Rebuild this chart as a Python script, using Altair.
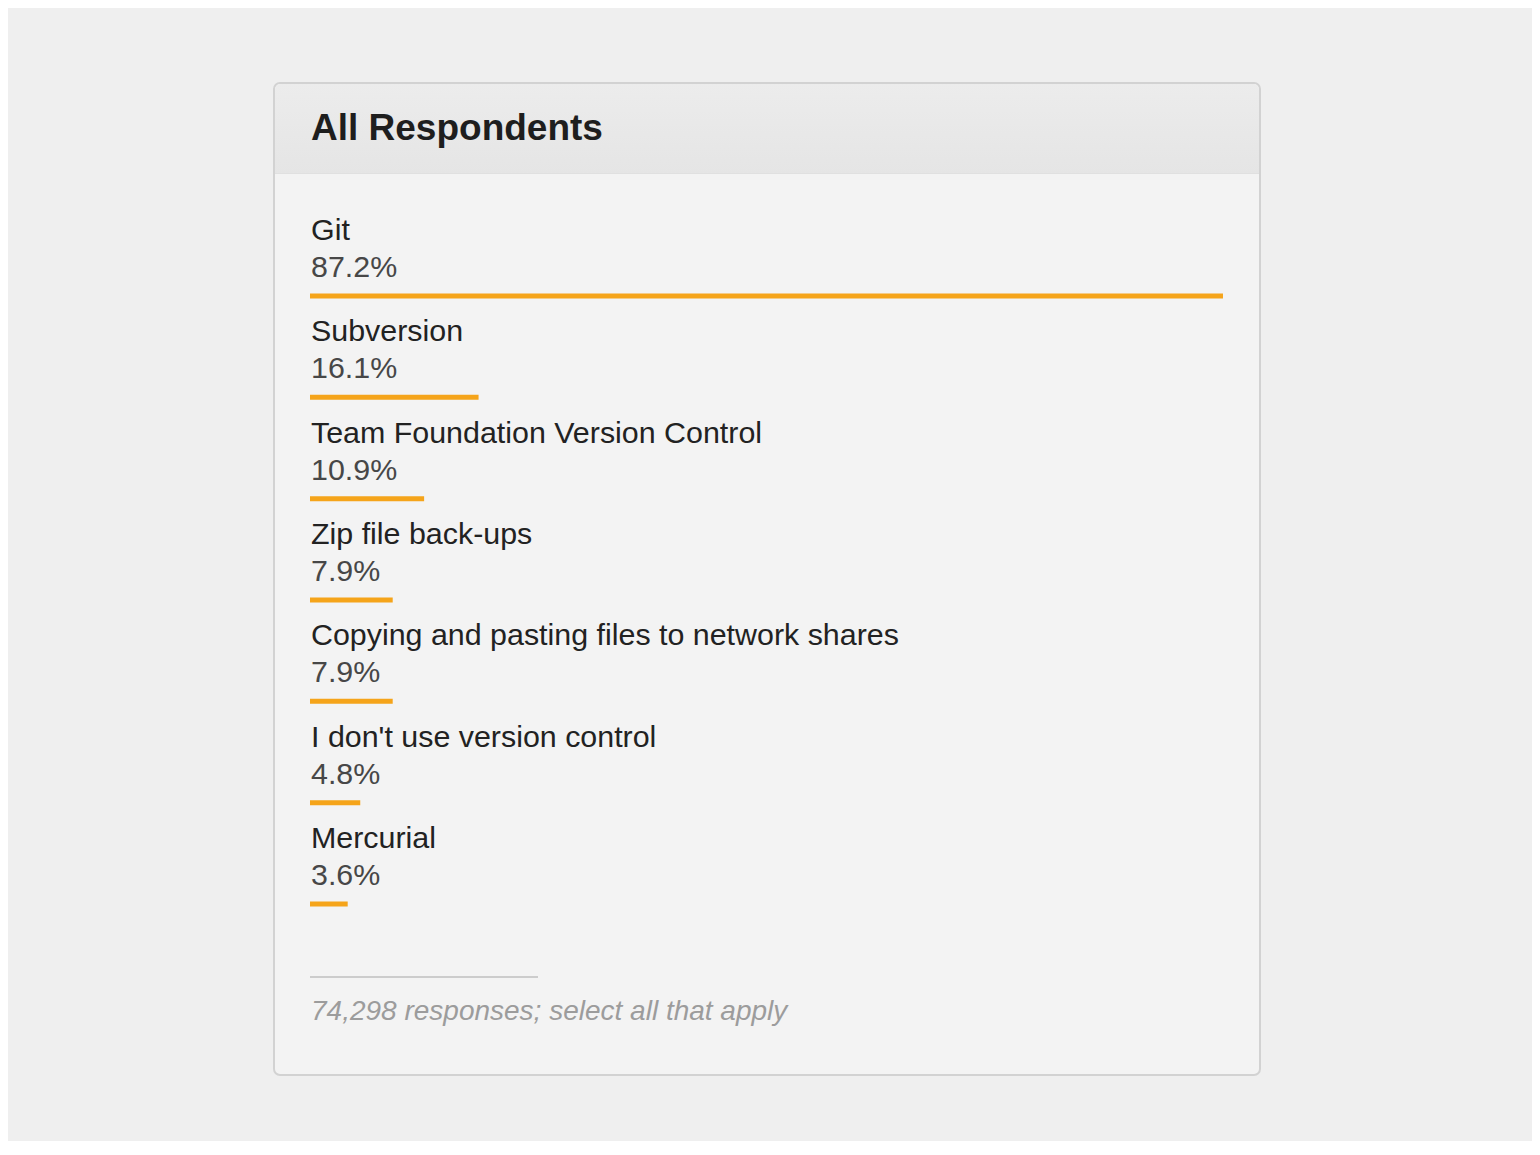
import altair as alt
import pandas as pd

categories = [
    "Git",
    "Subversion",
    "Team Foundation Version Control",
    "Zip file back-ups",
    "Copying and pasting files to network shares",
    "I don't use version control",
    "Mercurial",
]
percent = [87.2, 16.1, 10.9, 7.9, 7.9, 4.8, 3.6]
title_text = "All Respondents"
footnote = "74,298 responses; select all that apply"

df = pd.DataFrame({
    "category": categories,
    "pct": percent,
    "idx": list(range(len(categories))),
    "label": [f"{p:.1f}%" for p in percent],
})

W, H = 986, 992
FONT = "Liberation Sans"
ORANGE = "#f5a41a"

x_scale = alt.Scale(domain=[0, 100], range=[36, 1083])
y_scale = alt.Scale(domain=[0, 6], range=[213, 821])

base = alt.Chart(df)

header = alt.Chart(pd.DataFrame({"t": [title_text]})).mark_rect(
    color=alt.Gradient(
        gradient="linear",
        stops=[alt.GradientStop(color="#ececec", offset=0),
               alt.GradientStop(color="#e5e5e5", offset=1)],
        x1=0, x2=0, y1=0, y2=1,
    ),
    cornerRadiusTopLeft=6, cornerRadiusTopRight=6,
).encode(x=alt.value(1), x2=alt.value(W - 1), y=alt.value(1), y2=alt.value(90))

header_line = alt.Chart(pd.DataFrame({"t": [0]})).mark_rule(
    color="#e0e0e0", strokeWidth=1
).encode(x=alt.value(1), x2=alt.value(W - 1), y=alt.value(90.5))

title = alt.Chart(pd.DataFrame({"t": [title_text]})).mark_text(
    align="left", baseline="middle", font=FONT, fontSize=37, fontWeight="bold",
    color="#1e1e1e",
).encode(x=alt.value(37), y=alt.value(46), text="t:N")

bars = base.mark_rule(color=ORANGE, strokeWidth=5, strokeCap="butt").encode(
    x=alt.X("zero:Q", scale=x_scale, axis=None),
    x2="pct:Q",
    y=alt.Y("idx:Q", scale=y_scale, axis=None),
).transform_calculate(zero="0")

cat_text = base.mark_text(
    align="left", baseline="middle", font=FONT, fontSize=30.4, color="#222222", dy=-65, dx=1,
).encode(
    x=alt.X("zero:Q", scale=x_scale, axis=None),
    y=alt.Y("idx:Q", scale=y_scale, axis=None),
    text="category:N",
).transform_calculate(zero="0")

pct_text = base.mark_text(
    align="left", baseline="middle", font=FONT, fontSize=30.4, color="#474747", dy=-28, dx=1,
).encode(
    x=alt.X("zero:Q", scale=x_scale, axis=None),
    y=alt.Y("idx:Q", scale=y_scale, axis=None),
    text="label:N",
).transform_calculate(zero="0")

foot_rule = alt.Chart(pd.DataFrame({"t": [0]})).mark_rule(
    color="#cccccc", strokeWidth=2
).encode(x=alt.value(36), x2=alt.value(264), y=alt.value(894))

foot_text = alt.Chart(pd.DataFrame({"t": [footnote]})).mark_text(
    align="left", baseline="middle", font=FONT, fontSize=28, fontStyle="italic",
    color="#9c9c9c",
).encode(x=alt.value(37), y=alt.value(929), text="t:N")

chart = alt.layer(
    header, header_line, title, bars, cat_text, pct_text, foot_rule, foot_text
).properties(
    width=W, height=H,
    autosize=alt.AutoSizeParams(type="none"),
    padding={"left": 266, "top": 75, "right": 272, "bottom": 66},
    background="#efefef",
).configure_view(
    fill="#f3f3f3", stroke="#d2d2d2", strokeWidth=2, cornerRadius=6,
)

chart.save("out.html", embed_options={"renderer": "svg", "actions": False})
